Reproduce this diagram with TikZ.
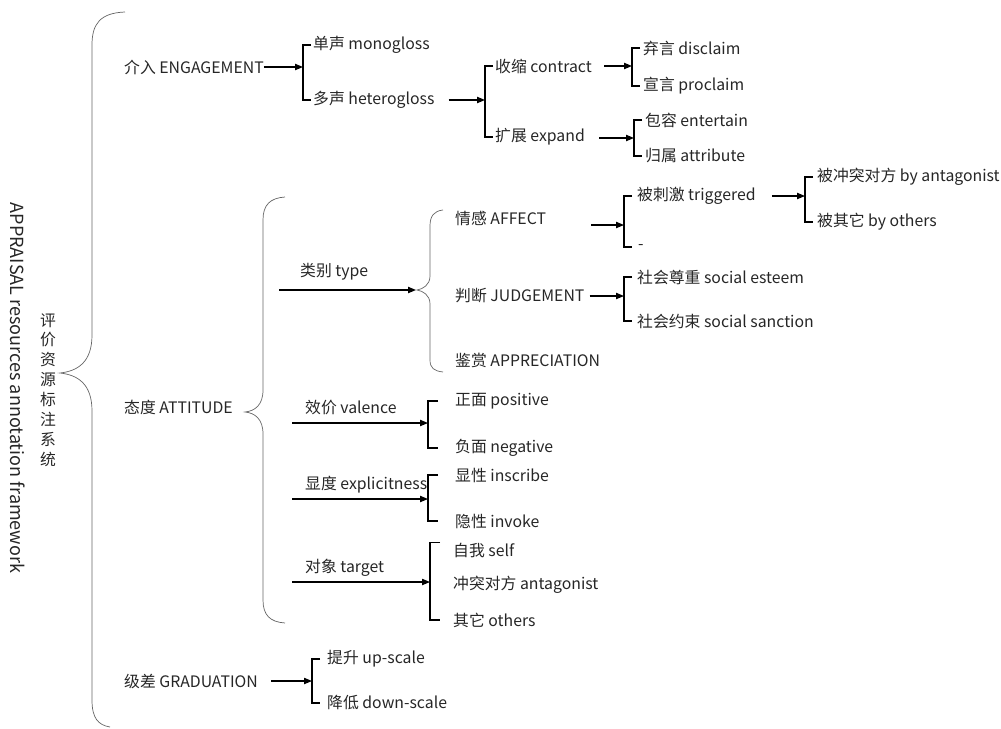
\documentclass[tikz,border=0pt]{standalone}
\usepackage{fontspec}
\setmainfont{Noto Sans CJK SC}
\usetikzlibrary{arrows.meta}
\tikzset{>={Triangle[length=2.4mm,width=1.9mm]}}
\tikzset{
  lbl/.style={anchor=west,inner sep=0pt,text=black!85,
    font=\fontsize{13.5}{16.2}\selectfont},
  arr/.style={->,line width=0.9pt},
  brk/.style={line width=0.9pt},
  brc/.style={line width=0.6pt,draw=black!60},
}

\begin{document}
\begin{tikzpicture}[x=0.03cm,y=-0.03cm]
\useasboundingbox (0,0) rectangle (1001,729);

% title
\node[rotate=-90,inner sep=0pt,text=black!85,font=\fontsize{15.4}{18}\selectfont] (titleen) at (18,388) {APPRAISAL resources annotation framework};
\node[align=center,inner sep=0pt,text=black!85,font=\fontsize{13.5}{17}\selectfont] (titlezh) at (48,390) {评\\价\\资\\源\\标\\注\\系\\统};

% outer brace
\draw[brc] (125,12) .. controls (100,13) and (92,24) .. (92,45) -- (92,335)
  .. controls (92,362) and (78,371) .. (60,373) .. controls (78,375) and (92,384) .. (92,411)
  -- (92,700) .. controls (92,718) and (98,725) .. (110,727);

% first level
\node[lbl] (eng) at (124,67) {介入 ENGAGEMENT};
\node[lbl] (att) at (124,407) {态度 ATTITUDE};
\node[lbl] (grad) at (124,681) {级差 GRADUATION};

%% ENGAGEMENT
\coordinate (engB) at (303,67);
\node[lbl] (mono) at (313,45) {单声 monogloss};
\node[lbl] (hetero) at (313,100) {多声 heterogloss};
\draw[arr] (eng.east) -- (engB);
\draw[brk] (engB |- mono.west) ++(8,0) -- (engB |- mono.west) -- (engB |- hetero.west) -- ++(8,0);

\coordinate (hetB) at (485,100);
\node[lbl] (contract) at (495,66) {收缩 contract};
\node[lbl] (expand) at (495,137) {扩展 expand};
\draw[arr] (hetB -| hetero.east) ++(14,0) -- (hetB);
\draw[brk] (hetB |- contract.west) ++(8,0) -- (hetB |- contract.west) -- (hetB |- expand.west) -- ++(8,0);

\coordinate (conB) at (632,66);
\node[lbl] (disclaim) at (643,48) {弃言 disclaim};
\node[lbl] (proclaim) at (643,86) {宣言 proclaim};
\draw[arr] (conB -| contract.east) ++(12,0) -- (conB);
\draw[brk] (conB |- disclaim.west) ++(8,0) -- (conB |- disclaim.west) -- (conB |- proclaim.west) -- ++(8,0);

\coordinate (expB) at (634,138);
\node[lbl] (entertain) at (645,120) {包容 entertain};
\node[lbl] (attribute) at (645,156) {归属 attribute};
\draw[arr] (expB -| expand.east) ++(14,0) -- (expB);
\draw[brk] (expB |- entertain.west) ++(8,0) -- (expB |- entertain.west) -- (expB |- attribute.west) -- ++(8,0);

%% ATTITUDE
\draw[brc] (285,197) .. controls (270,198) and (263,205) .. (263,220) -- (263,390)
  .. controls (263,405) and (255,411) .. (245,412) .. controls (255,413) and (263,419) .. (263,434)
  -- (263,600) .. controls (263,615) and (270,622) .. (285,623);

% type
\node[lbl] (type) at (300,272) {类别 type};
\coordinate (typeS) at (279,290);
\coordinate (typeB) at (416,290);
\draw[arr] (typeS) -- (typeB);
\draw[brc] (443,210) .. controls (434,211) and (430,216) .. (430,226) -- (430,276)
  .. controls (430,285) and (423,289) .. (417,290) .. controls (423,291) and (430,295) .. (430,304)
  -- (430,360) .. controls (430,368) and (434,371) .. (443,372);
\node[lbl] (affect) at (455,218) {情感 AFFECT};
\node[lbl] (judge) at (455,296) {判断 JUDGEMENT};
\node[lbl] (apprec) at (455,360) {鉴赏 APPRECIATION};

\coordinate (affB) at (624,225);
\node[lbl] (trig) at (637,196) {被刺激 triggered};
\node[lbl] (dash0) at (638,247) {-};
\draw[arr] (affB -| affect.east) ++(45,0) -- (affB);
\draw[brk] (affB |- trig.west) ++(8,0) -- (affB |- trig.west) -- (affB |- dash0.west) -- ++(8,0);

\coordinate (trigB) at (805,196);
\node[lbl] (byant) at (817,177) {被冲突对方 by antagonist};
\node[lbl] (byoth) at (817,222) {被其它 by others};
\draw[arr] (trigB -| trig.east) ++(16,0) -- (trigB);
\draw[brk] (trigB |- byant.west) ++(8,0) -- (trigB |- byant.west) -- (trigB |- byoth.west) -- ++(8,0);

\coordinate (judB) at (624,296);
\node[lbl] (esteem) at (637,277) {社会尊重 social esteem};
\node[lbl] (sanction) at (637,321) {社会约束 social sanction};
\draw[arr] (judB -| judge.east) ++(5,0) -- (judB);
\draw[brk] (judB |- esteem.west) ++(8,0) -- (judB |- esteem.west) -- (judB |- sanction.west) -- ++(8,0);

% valence
\node[lbl] (valence) at (305,408) {效价 valence};
\coordinate (valS) at (292,423);
\coordinate (valB) at (428,423);
\node[lbl] (pos) at (455,401) {正面 positive};
\node[lbl] (neg) at (455,448) {负面 negative};
\draw[arr] (valS) -- (valB);
\draw[brk] (valB |- pos.west) ++(10,0) -- (valB |- pos.west) -- (valB |- neg.west) -- ++(10,0);

% explicitness
\node[lbl] (explicit) at (305,485) {显度 explicitness};
\coordinate (expS) at (292,499);
\coordinate (explB) at (428,499);
\node[lbl] (inscribe) at (455,475) {显性 inscribe};
\node[lbl] (invoke) at (455,521) {隐性 invoke};
\draw[arr] (expS) -- (explB);
\draw[brk] (explB |- inscribe.west) ++(10,0) -- (explB |- inscribe.west) -- (explB |- invoke.west) -- ++(10,0);

% target
\node[lbl] (target) at (305,568) {对象 target};
\coordinate (tarS) at (292,582);
\coordinate (tarB) at (430,582);
\node[lbl] (self) at (453,550) {自我 self};
\node[lbl] (antag) at (453,585) {冲突对方 antagonist};
\node[lbl] (others) at (453,620) {其它 others};
\draw[arr] (tarS) -- (tarB);
\draw[brk] (tarB |- self.north) ++(10,0) -- (tarB |- self.north) -- (tarB |- others.west) -- ++(10,0);

%% GRADUATION
\coordinate (gradB) at (312,681);
\node[lbl] (up) at (327,659) {提升 up-scale};
\node[lbl] (down) at (327,703) {降低 down-scale};
\draw[arr] (gradB -| grad.east) ++(13,0) -- (gradB);
\draw[brk] (gradB |- up.west) ++(8,0) -- (gradB |- up.west) -- (gradB |- down.west) -- ++(8,0);
\end{tikzpicture}
\end{document}
